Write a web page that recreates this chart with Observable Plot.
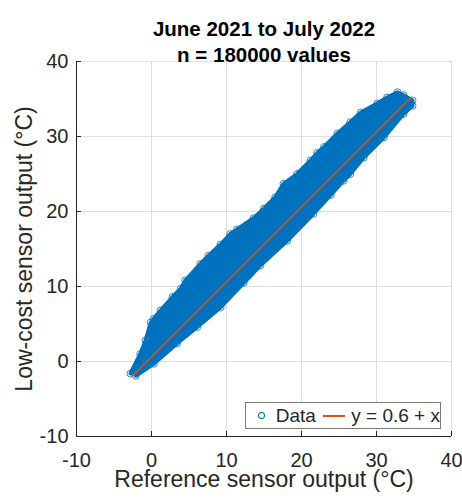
<!DOCTYPE html>
<html>
<head>
<meta charset="utf-8">
<script src="https://cdn.jsdelivr.net/npm/d3@7"></script>
<script src="https://cdn.jsdelivr.net/npm/@observablehq/plot@0.6"></script>
<style>
  html, body { margin: 0; padding: 0; background: #fff; }
  #wrap { position: relative; width: 462px; height: 501px; font-family: "Liberation Sans", Arial, Helvetica, sans-serif; }
  #legend { position: absolute; left: 245px; top: 402px; width: 196px; height: 27px; border: 1px solid #7a7a7a; background: #fff; box-sizing: border-box; font-size: 19px; color: #262626; display: flex; align-items: center; white-space: nowrap; }
  #legend .mk { display: inline-block; width: 5px; height: 5px; border: 1px solid #0072BD; border-radius: 50%; margin-left: 12px; margin-right: 11px; }
  #legend .ln { display: inline-block; width: 24px; height: 0; border-top: 2px solid #D95319; margin: 0 6px 0 7px; }
</style>
</head>
<body>
<div id="wrap"></div>
<script>
// Title lines
const titleLines = ["June 2021 to July 2022", "n = 180000 values"];
const xLabel = "Reference sensor output (°C)";
const yLabel = "Low-cost sensor output (°C)";
const xTicks = [-10, 0, 10, 20, 30, 40];
const yTicks = [-10, 0, 10, 20, 30, 40];
const legendLabels = ["Data", "y = 0.6 + x"];

// Fit line: y = intercept + x over the data range
const fitIntercept = 0.6;
const fitX = [-2.6, 34.6];

// Envelope of the scatter cloud
// upper edge, left to right
const upperX = [-2.8, -1.5, -0.8, -0.1, 0.3, 1.2, 2.8, 3.9, 4.5, 6.5, 7.6, 9.2, 10.5, 11.4, 13.6, 15.0, 16.5, 17.6, 19.4, 21.2, 22.1, 23.0, 24.8, 26.5, 27.9, 30.1, 31.4, 32.8, 33.6, 34.8];
const upperY = [-1.6, 1.0, 2.8, 5.2, 5.7, 6.8, 8.6, 9.7, 10.8, 13.0, 14.1, 15.6, 17.0, 17.6, 19.1, 20.4, 21.9, 23.7, 25.0, 26.8, 27.8, 28.6, 30.4, 31.9, 33.2, 34.4, 35.2, 35.9, 35.5, 34.8];
// lower edge, right to left
const lowerX = [34.8, 33.6, 31.0, 28.3, 26.5, 25.6, 23.9, 21.6, 18.1, 14.5, 12.3, 9.2, 6.1, 3.4, 0.3, -2.1];
const lowerY = [34.1, 33.0, 29.9, 27.2, 25.0, 24.1, 22.2, 19.7, 16.1, 12.8, 10.5, 7.2, 4.6, 2.4, -0.3, -1.9];

const blue = "#0072BD";
const orange = "#D95319";
const axisColor = "#262626";
const font = '"Liberation Sans", Arial, Helvetica, sans-serif';

const band = [
  ...upperX.map((x, i) => ({x, y: upperY[i]})),
  ...lowerX.map((x, i) => ({x, y: lowerY[i]}))
];
const fit = fitX.map(x => ({x, y: fitIntercept + x}));

const chart = Plot.plot({
  width: 462,
  height: 501,
  marginLeft: 76,
  marginRight: 11,
  marginTop: 61,
  marginBottom: 65,
  style: {fontFamily: font, color: axisColor, background: "#fff"},
  x: {domain: [-10, 40]},
  y: {domain: [-10, 40]},
  marks: [
    Plot.gridX(xTicks, {stroke: "#dfdfdf", strokeOpacity: 1}),
    Plot.gridY(yTicks, {stroke: "#dfdfdf", strokeOpacity: 1}),
    Plot.line(band, {x: "x", y: "y", fill: blue, stroke: blue, strokeWidth: 4, strokeLinejoin: "round"}),
    Plot.dot(band, {x: "x", y: "y", r: 3.5, stroke: blue, strokeWidth: 0.8, fill: "none"}),
    Plot.line(fit, {x: "x", y: "y", stroke: orange, strokeWidth: 1.6}),
    Plot.tickX(xTicks, {x: d => d, insetTop: 370, stroke: axisColor}),
    Plot.tickY(yTicks, {y: d => d, insetRight: 370, stroke: axisColor}),
    Plot.axisX(xTicks, {anchor: "bottom", tickSize: 0, tickPadding: 16, fontSize: 20, fill: axisColor, label: null, tickFormat: d => String(d)}),
    Plot.axisY(yTicks, {anchor: "left", tickSize: 0, tickPadding: 8, fontSize: 20, fill: axisColor, label: null, tickFormat: d => String(d)}),
    Plot.ruleY([-10], {stroke: axisColor}),
    Plot.ruleX([-10], {stroke: axisColor}),
    Plot.text([titleLines[0]], {frameAnchor: "top", dy: -40.5, text: d => d, fontSize: 20.5, fontWeight: "bold", fill: "#000"}),
    Plot.text([titleLines[1]], {frameAnchor: "top", dy: -14.5, text: d => d, fontSize: 20.5, fontWeight: "bold", fill: "#000"}),
    Plot.text([xLabel], {frameAnchor: "bottom", dy: 50, text: d => d, fontSize: 23, fill: axisColor}),
    Plot.text([yLabel], {frameAnchor: "left", dx: -52, rotate: -90, textAnchor: "middle", text: d => d, fontSize: 23, fill: axisColor})
  ]
});

const wrap = document.getElementById("wrap");
wrap.appendChild(chart);
const legend = document.createElement("div");
legend.id = "legend";
legend.innerHTML = `<span class="mk"></span><span>${legendLabels[0]}</span><span class="ln"></span><span>${legendLabels[1]}</span>`;
wrap.appendChild(legend);
</script>
</body>
</html>
